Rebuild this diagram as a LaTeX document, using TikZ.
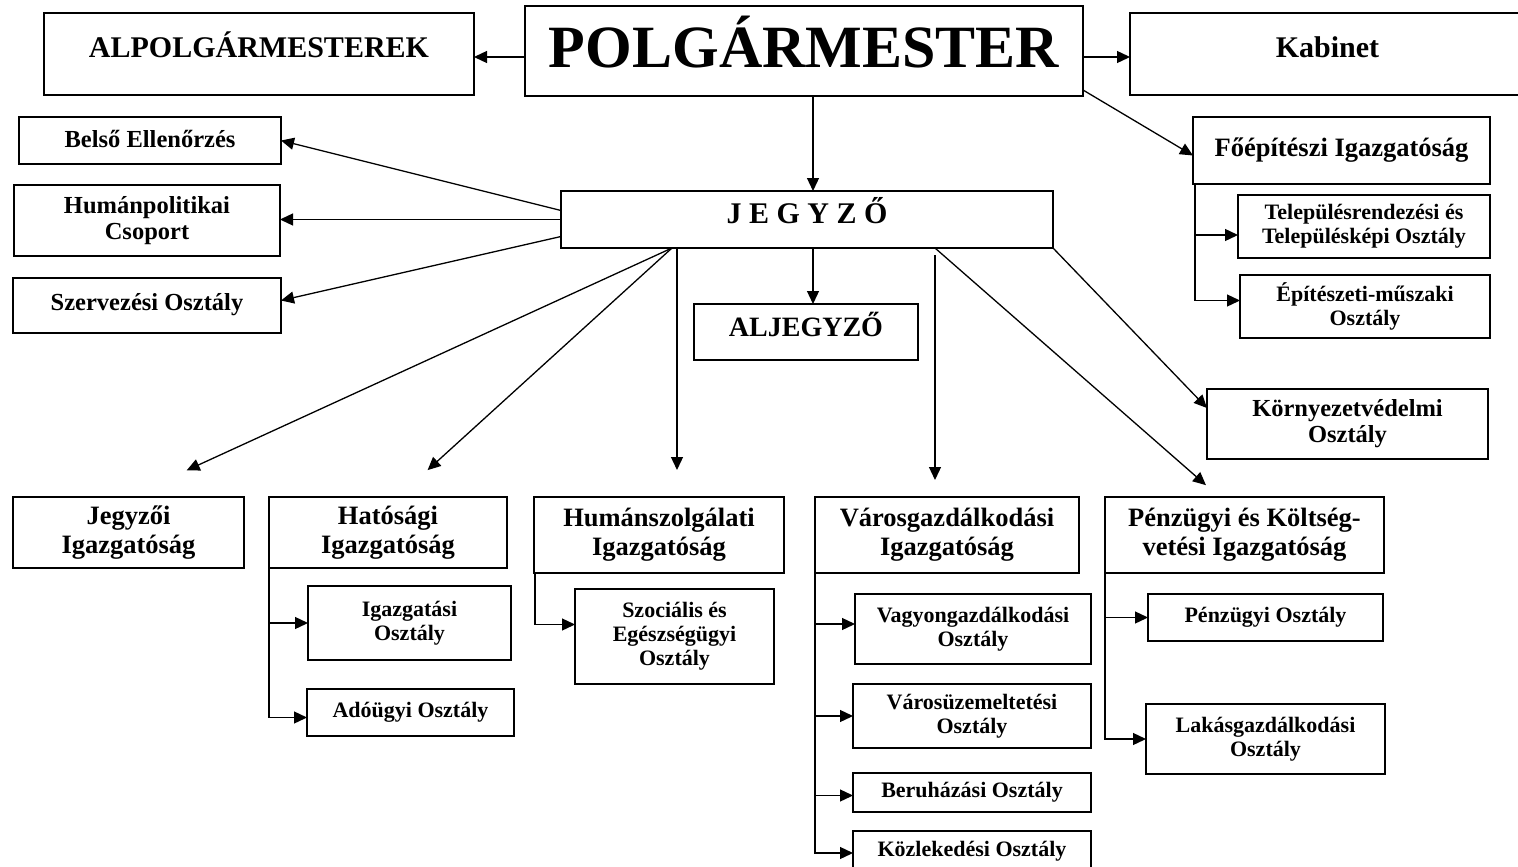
\documentclass[tikz,border=0pt]{standalone}
\usepackage{fontspec}
\setmainfont{Liberation Serif}
\usetikzlibrary{arrows.meta}
\tikzset{
  box/.style={draw, line width=1.4pt, inner sep=0pt, outer sep=0pt, align=center},
  arr/.style={line width=1.3pt, -{Triangle[length=13pt,width=12pt]}},
  capsup/.style 2 args={text height=#1, text depth=#2},
  fhuge/.style={font=\bfseries\fontsize{60}{64}\selectfont},
  fbig/.style={font=\bfseries\fontsize{30}{34}\selectfont},
  fjegy/.style={font=\bfseries\fontsize{28}{32}\selectfont},
  ftitle/.style={font=\bfseries\fontsize{26.5}{29}\selectfont},
  fmid/.style={font=\bfseries\fontsize{24.5}{26}\selectfont},
  fsub/.style={font=\bfseries\fontsize{22}{24}\selectfont},
}
\begin{document}
\begin{tikzpicture}[x=1pt,y=-1pt]
\useasboundingbox (0,0) rectangle (1518,867);
% top row
\node[box,fhuge,capsup={39.6pt}{6pt},minimum width=558pt,minimum height=90pt] (polg) at (804,51) {POLGÁRMESTER};
\node[box,fbig,capsup={19.8pt}{12pt},minimum width=430pt,minimum height=82pt] (alpol) at (259,54) {ALPOLGÁRMESTEREK};
\node[box,fbig,capsup={19.8pt}{12pt},minimum width=395pt,minimum height=82pt] (kab) at (1327.5,54) {Kabinet};
% jegyzo
\node[box,fbig,capsup={19.8pt}{11pt},minimum width=492pt,minimum height=57pt] (jegyzo) at (807,219.5) {J E G Y Z Ő};
\node[box,fjegy,capsup={18.5pt}{10pt},minimum width=224pt,minimum height=56pt] (aljegyzo) at (806,332) {ALJEGYZŐ};
% left column
\node[box,fmid,capsup={16.2pt}{3pt},minimum width=262pt,minimum height=47pt] (belso) at (150,140.5) {Belső Ellenőrzés};
\node[box,fmid,minimum width=266pt,minimum height=71pt] (human) at (147,220.5) {Humánpolitikai\\Csoport};
\node[box,fmid,capsup={16.2pt}{6pt},minimum width=268pt,minimum height=55pt] (szerv) at (147,305.5) {Szervezési Osztály};
% right column
\node[box,ftitle,minimum width=297pt,minimum height=67pt] (foep) at (1341.5,150.5) {Főépítészi Igazgatóság};
\node[box,fsub,minimum width=252pt,minimum height=63pt] (telep) at (1364,226.5) {Településrendezési és\\Településképi Osztály};
\node[box,fsub,minimum width=250pt,minimum height=63pt] (epit) at (1365,306.5) {Építészeti-műszaki\\Osztály};
\node[box,fmid,minimum width=281pt,minimum height=70pt] (korny) at (1347.5,424) {Környezetvédelmi\\Osztály};
% bottom row
\node[box,ftitle,minimum width=231pt,minimum height=71pt] (jegyzoi) at (128.5,532.5) {Jegyzői\\Igazgatóság};
\node[box,ftitle,minimum width=238pt,minimum height=71pt] (hatos) at (388,532.5) {Hatósági\\Igazgatóság};
\node[box,ftitle,minimum width=250pt,minimum height=76pt] (humsz) at (659,535) {Humánszolgálati\\Igazgatóság};
\node[box,ftitle,minimum width=264pt,minimum height=76pt] (varos) at (947,535) {Városgazdálkodási\\Igazgatóság};
\node[box,ftitle,minimum width=279pt,minimum height=76pt] (penz) at (1244.5,535) {Pénzügyi és Költség-\\vetési Igazgatóság};
% sub departments
\node[box,fsub,minimum width=203pt,minimum height=74pt] (igazg) at (409.5,623) {Igazgatási\\Osztály};
\node[box,fsub,minimum width=207pt,minimum height=47pt] (adou) at (410.5,712.5) {Adóügyi Osztály};
\node[box,fsub,minimum width=199pt,minimum height=95pt] (szoc) at (674.5,636.5) {Szociális és\\Egészségügyi\\Osztály};
\node[box,fsub,minimum width=236pt,minimum height=70pt] (vagy) at (973,629) {Vagyongazdálkodási\\Osztály};
\node[box,fsub,minimum width=238pt,minimum height=64pt] (varosuz) at (972,716) {Városüzemeltetési\\Osztály};
\node[box,fsub,minimum width=238pt,minimum height=39pt] (beruh) at (972,792.5) {Beruházási Osztály};
\node[box,fsub,minimum width=238pt,minimum height=40pt] (kozl) at (972,851) {Közlekedési Osztály};
\node[box,fsub,minimum width=235pt,minimum height=47pt] (penzo) at (1265.5,617.5) {Pénzügyi Osztály};
\node[box,fsub,minimum width=239pt,minimum height=70pt] (lakas) at (1265.5,739) {Lakásgazdálkodási\\Osztály};
% top connectors
\coordinate (aw) at ([yshift=-3pt]alpol.east);
\coordinate (kw) at ([yshift=-3pt]kab.west);
\draw[arr] (polg.west |- aw) -- (aw);
\draw[arr] (polg.east |- kw) -- (kw);
\draw[arr] ([xshift=9pt]polg.south) -- ([xshift=6pt]jegyzo.north);
\draw[arr] ([yshift=6pt]polg.south east) -- ([yshift=-5pt]foep.west);
% foep bracket
\coordinate (fb) at ([xshift=2pt]foep.south west);
\draw[arr] (fb) |- ([yshift=-8.5pt]telep.west);
\draw[arr] (fb) |- ([yshift=6pt]epit.west);
% jegyzo left
\draw[arr] ([yshift=9pt]jegyzo.west) -- (belso.east);
\draw[arr] (jegyzo.west) -- (jegyzo.west -| human.east);
\draw[arr] ([yshift=-17pt]jegyzo.west) -- ([yshift=5pt]szerv.east);
% jegyzo down
\draw[arr] ([xshift=6pt]jegyzo.south) -- ([xshift=7pt]aljegyzo.north);
\draw[arr,shorten >=64pt] ([xshift=-135pt]jegyzo.south) -- (jegyzoi.north);
\draw[arr,shorten >=40pt] ([xshift=-135pt]jegyzo.south) -- ([xshift=10pt]hatos.north);
\draw[arr,shorten >=27pt] ([xshift=-130pt]jegyzo.south) -- ([xshift=18pt]humsz.north);
\draw[arr,shorten <=7pt,shorten >=17pt] ([xshift=128pt]jegyzo.south) -- ([xshift=-12pt]varos.north);
\draw[arr,shorten >=18pt] ([xshift=128pt]jegyzo.south) -- ([xshift=-25pt]penz.north);
\draw[arr] (jegyzo.south east) -- ([yshift=16pt]korny.west);
% brackets
\draw[arr] (hatos.south west) |- (igazg.west);
\draw[arr] (hatos.south west) |- ([yshift=-5pt]adou.west);
\draw[arr] ([xshift=1pt]humsz.south west) |- ([yshift=12pt]szoc.west);
\draw[arr] (varos.south west) |- ([yshift=5pt]vagy.west);
\draw[arr] (varos.south west) |- (varosuz.west);
\draw[arr] (varos.south west) |- ([yshift=-3pt]beruh.west);
\draw[arr] (varos.south west) |- ([yshift=-2pt]kozl.west);
\draw[arr] (penz.south west) |- (penzo.west);
\draw[arr] (penz.south west) |- (lakas.west);
\end{tikzpicture}
\end{document}
